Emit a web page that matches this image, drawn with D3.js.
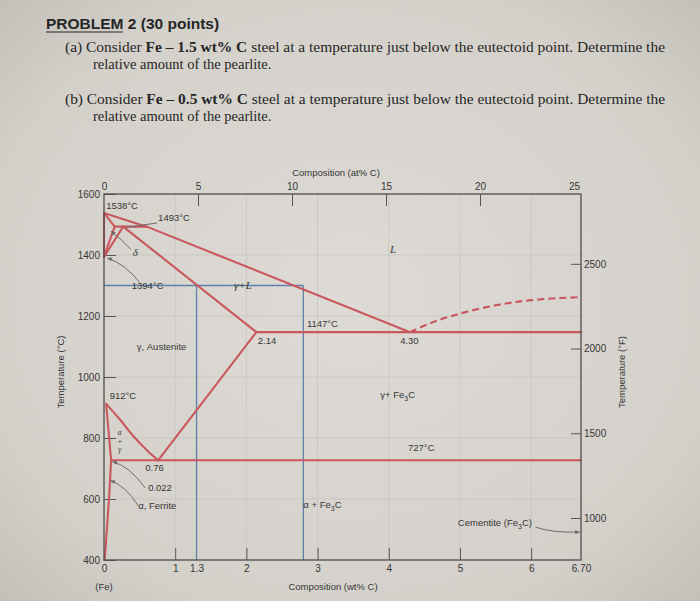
<!DOCTYPE html>
<html><head><meta charset="utf-8">
<script src="https://cdn.jsdelivr.net/npm/d3@7"></script>
<style>html,body{margin:0;padding:0;background:#d3d0cb;}svg{display:block;}</style>
</head><body>
<svg id="chart" width="700" height="601"></svg>
<script>
// ---------- data (wt% C, °C) ----------
const wtTicks = [0, 1, 1.3, 2, 3, 4, 5, 6, 6.7];
const atTicks = [0, 5, 10, 15, 20, 25];
const tempCTicks = [400, 600, 800, 1000, 1200, 1400, 1600];
const tempFTicks = [1000, 1500, 2000, 2500];
const liquidus = [[0, 1538], [0.6, 1493], [4.30, 1147]];
const deltaSolidus = [[0, 1538], [0.15, 1493]];
const deltaGamma = [[0.15, 1493], [0, 1394]];
const gammaDelta = [[0.27, 1493], [0, 1394]];
const pureFeDelta = [[0, 1394], [0, 1538]];
const peritectic = [[0.15, 1493], [0.6, 1493]];
const gammaSolidus = [[0.27, 1493], [2.14, 1147]];
const eutectic = [[2.14, 1147], [6.70, 1147]];
const liquidusFe3C = [[4.30, 1147], [4.6, 1178], [5.0, 1208], [5.5, 1235], [6.0, 1252], [6.70, 1262]];
const a3Line = [[0.03, 912], [0.23, 859], [0.42, 804], [0.61, 758], [0.76, 727]];
const acmLine = [[0.76, 727], [2.14, 1147]];
const alphaBoundary = [[0.03, 912], [0.1, 727]];
const solvus = [[0.1, 727], [0.07, 600], [0.04, 500], [0.01, 400]];
const eutectoid = [[0.1, 727], [6.70, 727]];
const blueH = [[0, 1300], [2.8, 1300]];
const blueV1 = [[1.3, 1300], [1.3, 400]];
const blueV2 = [[2.8, 1300], [2.8, 400]];

// labels: [text, wt, °C, anchor, italic]
const labels = [
  ["1538°C", 0.03, 1551, "start", false],
  ["1493°C", 0.76, 1511, "start", false],
  ["δ", 0.44, 1397, "middle", true],
  ["1394°C", 0.39, 1289, "start", false],
  ["γ+L", 1.95, 1289, "middle", true],
  ["L", 4.06, 1407, "middle", true],
  ["1147°C", 2.85, 1164, "start", false],
  ["2.14", 2.16, 1108, "start", false],
  ["4.30", 4.16, 1108, "start", false],
  ["γ, Austenite", 0.46, 1089, "start", false],
  ["912°C", 0.08, 928, "start", false],
  ["0.76", 0.58, 692, "start", false],
  ["0.022", 0.62, 626, "start", false],
  ["α, Ferrite", 0.48, 567, "start", false],
  ["727°C", 4.27, 757, "start", false]
];
const fe3cLabels = [
  ["γ+ Fe", 3.88, 931],
  ["α + Fe", 2.8, 570],
  ["Cementite (Fe", 4.97, 511]
];
const alphaGammaStack = [["α", 809], ["+", 781], ["γ", 753]];

// ---------- layout ----------
const svg = d3.select("#chart");
const defs = svg.append("defs");
const rg = defs.append("radialGradient").attr("id", "paper").attr("cx", "50%").attr("cy", "50%").attr("r", "75%");
rg.append("stop").attr("offset", "0%").attr("stop-color", "#dedbd6");
rg.append("stop").attr("offset", "70%").attr("stop-color", "#d4d1cb");
rg.append("stop").attr("offset", "100%").attr("stop-color", "#bfbbb5");
defs.append("marker").attr("id", "arr").attr("viewBox", "0 0 10 10").attr("refX", 9).attr("refY", 5)
  .attr("markerWidth", 5).attr("markerHeight", 5).attr("orient", "auto")
  .append("path").attr("d", "M0,1 L10,5 L0,9 Z").attr("fill", "#6d6d6d");
svg.append("rect").attr("width", 700).attr("height", 601).attr("fill", "url(#paper)");

const sans = "'Liberation Sans', Arial, sans-serif";
const serif = "'Liberation Serif', 'Times New Roman', serif";
const ink = "#363636";

// header text
const hd = svg.append("g").attr("fill", "#262626");
hd.append("text").attr("x", 46).attr("y", 29).attr("font-family", sans).attr("font-weight", "bold")
  .attr("font-size", 15.5).text("PROBLEM 2 (30 points)");
hd.append("line").attr("x1", 46).attr("x2", 123).attr("y1", 32).attr("y2", 32).attr("stroke", "#262626").attr("stroke-width", 1.2);
function qline(prefix, y) {
  const t = hd.append("text").attr("x", 65).attr("y", y).attr("font-family", serif).attr("font-size", 14.5)
    .attr("textLength", 600).attr("lengthAdjust", "spacingAndGlyphs");
  t.append("tspan").text(prefix + " Consider ");
  t.append("tspan").attr("font-weight", "bold").text(prefix === "(a)" ? "Fe – 1.5 wt% C" : "Fe – 0.5 wt% C");
  t.append("tspan").text(" steel at a temperature just below the eutectoid point. Determine the");
}
qline("(a)", 52);
hd.append("text").attr("x", 93).attr("y", 69).attr("font-family", serif).attr("font-size", 14.5).text("relative amount of the pearlite.");
qline("(b)", 104);
hd.append("text").attr("x", 93).attr("y", 121).attr("font-family", serif).attr("font-size", 14.5).text("relative amount of the pearlite.");

// scales
const x = d3.scaleLinear().domain([0, 6.7]).range([104, 581]);
const y = d3.scaleLinear().domain([400, 1600]).range([560, 194]);
const xAt = d3.scaleLinear().domain([0, 25]).range([104, 574]);
const yF = d3.scaleLinear().domain([400 * 9 / 5 + 32, 1600 * 9 / 5 + 32]).range([560, 194]);

// grid
const grid = svg.append("g").attr("stroke", "#c8c5bf").attr("stroke-width", 0.8);
[1, 2, 3, 4, 5, 6].forEach(v => grid.append("line").attr("x1", x(v)).attr("x2", x(v)).attr("y1", y(1600)).attr("y2", y(400)));
[600, 800, 1000, 1200, 1400].forEach(v => grid.append("line").attr("x1", x(0)).attr("x2", x(6.7)).attr("y1", y(v)).attr("y2", y(v)));

// axes
function styleAxis(g) {
  g.select(".domain").remove();
  g.selectAll("line").attr("stroke", "#555").attr("stroke-width", 1);
  g.selectAll("text").attr("font-family", sans).attr("font-size", 10).attr("fill", ink);
}
const fmtInt = d3.format("d");
svg.append("g").attr("transform", `translate(${x(0)},0)`)
  .call(d3.axisLeft(y).tickValues(tempCTicks).tickSize(-12).tickPadding(4).tickFormat(fmtInt)).call(styleAxis);
const bx = svg.append("g").attr("transform", `translate(0,${y(400)})`)
  .call(d3.axisBottom(x).tickValues(wtTicks).tickSize(-12).tickPadding(5)
    .tickFormat(d => d === 6.7 ? "6.70" : d3.format("~g")(d))).call(styleAxis);
bx.selectAll(".tick").filter(d => d === 0 || d === 1.3 || d === 6.7).select("line").remove();
svg.append("g").attr("transform", `translate(0,${y(1600)})`)
  .call(d3.axisTop(xAt).tickValues(atTicks).tickSize(-12).tickPadding(4).tickFormat(fmtInt)).call(styleAxis)
  .selectAll(".tick").filter(d => d === 0 || d === 25).select("line").remove();
svg.append("g").attr("transform", `translate(${x(6.7)},0)`)
  .call(d3.axisRight(yF).tickValues(tempFTicks).tickSize(-10).tickPadding(3).tickFormat(fmtInt)).call(styleAxis);

// axis titles
const at = svg.append("g").attr("font-family", sans).attr("font-size", 9.5).attr("fill", ink);
at.append("text").attr("x", 336).attr("y", 176).attr("text-anchor", "middle").text("Composition (at% C)");
at.append("text").attr("x", 333).attr("y", 590).attr("text-anchor", "middle").text("Composition (wt% C)");
at.append("text").attr("x", x(0)).attr("y", 590).attr("text-anchor", "middle").text("(Fe)");
at.append("text").attr("transform", "translate(64,372) rotate(-90)").attr("text-anchor", "middle").text("Temperature (°C)");
at.append("text").attr("transform", "translate(625,372) rotate(-90)").attr("text-anchor", "middle").text("Temperature (°F)");

// blue lines
const line = d3.line().x(d => x(d[0])).y(d => y(d[1]));
const curve = d3.line().x(d => x(d[0])).y(d => y(d[1])).curve(d3.curveCatmullRom);
const blue = svg.append("g").attr("fill", "none").attr("stroke", "#5e80a8").attr("stroke-width", 1.3);
[blueH, blueV1, blueV2].forEach(d => blue.append("path").attr("d", line(d)));

// phase boundaries
const red = svg.append("g").attr("fill", "none").attr("stroke", "#c9575e").attr("stroke-width", 2.1)
  .attr("stroke-linejoin", "round").attr("stroke-linecap", "round");
[liquidus, deltaSolidus, deltaGamma, gammaDelta, pureFeDelta, peritectic, gammaSolidus, eutectic,
 acmLine, alphaBoundary, eutectoid].forEach(d => red.append("path").attr("d", line(d)));
red.append("path").attr("d", curve(a3Line));
red.append("path").attr("d", curve(solvus));
red.append("path").attr("d", curve(liquidusFe3C)).attr("stroke-dasharray", "7,4").attr("stroke-linecap", "butt");

// frame
svg.append("rect").attr("x", x(0)).attr("y", y(1600)).attr("width", x(6.7) - x(0)).attr("height", y(400) - y(1600))
  .attr("fill", "none").attr("stroke", "#4d4d4d").attr("stroke-width", 1.3);

// leaders
const lead = svg.append("g").attr("fill", "none").attr("stroke", "#6d6d6d").attr("stroke-width", 1);
lead.append("path").attr("d", `M${x(0.76) - 1},${y(1505)} L${x(0.3)},${y(1490)}`);
lead.append("path").attr("d", `M${x(0.38)},${y(1418)} Q${x(0.25)},${y(1450)} ${x(0.1)},${y(1478)}`).attr("marker-end", "url(#arr)");
lead.append("path").attr("d", `M${x(0.5)},${y(1310)} Q${x(0.3)},${y(1370)} ${x(0.05)},${y(1390)}`).attr("marker-end", "url(#arr)");
lead.append("path").attr("d", `M${x(0.58)},${y(636)} Q${x(0.35)},${y(710)} ${x(0.12)},${y(722)}`).attr("marker-end", "url(#arr)");
lead.append("path").attr("d", `M${x(0.48)},${y(578)} Q${x(0.3)},${y(645)} ${x(0.09)},${y(660)}`).attr("marker-end", "url(#arr)");
lead.append("path").attr("d", `M${x(6.06)},${y(508)} Q${x(6.3)},${y(488)} ${x(6.68)},${y(492)}`).attr("marker-end", "url(#arr)");

// labels
const lb = svg.append("g").attr("font-family", sans).attr("font-size", 9.5).attr("fill", ink);
labels.forEach(l => lb.append("text").attr("x", x(l[1])).attr("y", y(l[2])).attr("text-anchor", l[3])
  .attr("font-style", l[4] ? "italic" : null).attr("font-family", l[4] ? serif : sans)
  .attr("font-size", l[4] ? 11 : 9.5).text(l[0]));
fe3cLabels.forEach(l => {
  const t = lb.append("text").attr("x", x(l[1])).attr("y", y(l[2]));
  t.append("tspan").text(l[0]);
  t.append("tspan").attr("font-size", 7).attr("dy", 2.5).text("3");
  t.append("tspan").attr("dy", -2.5).text("C" + (l[0].startsWith("Cementite") ? ")" : ""));
});
// stacked α + γ
const ag = lb.append("g").attr("font-family", serif).attr("font-style", "italic").attr("font-size", 7.5).attr("text-anchor", "middle");
alphaGammaStack.forEach(s => ag.append("text").attr("x", x(0.22)).attr("y", y(s[1])).text(s[0]));
</script>
</body></html>
